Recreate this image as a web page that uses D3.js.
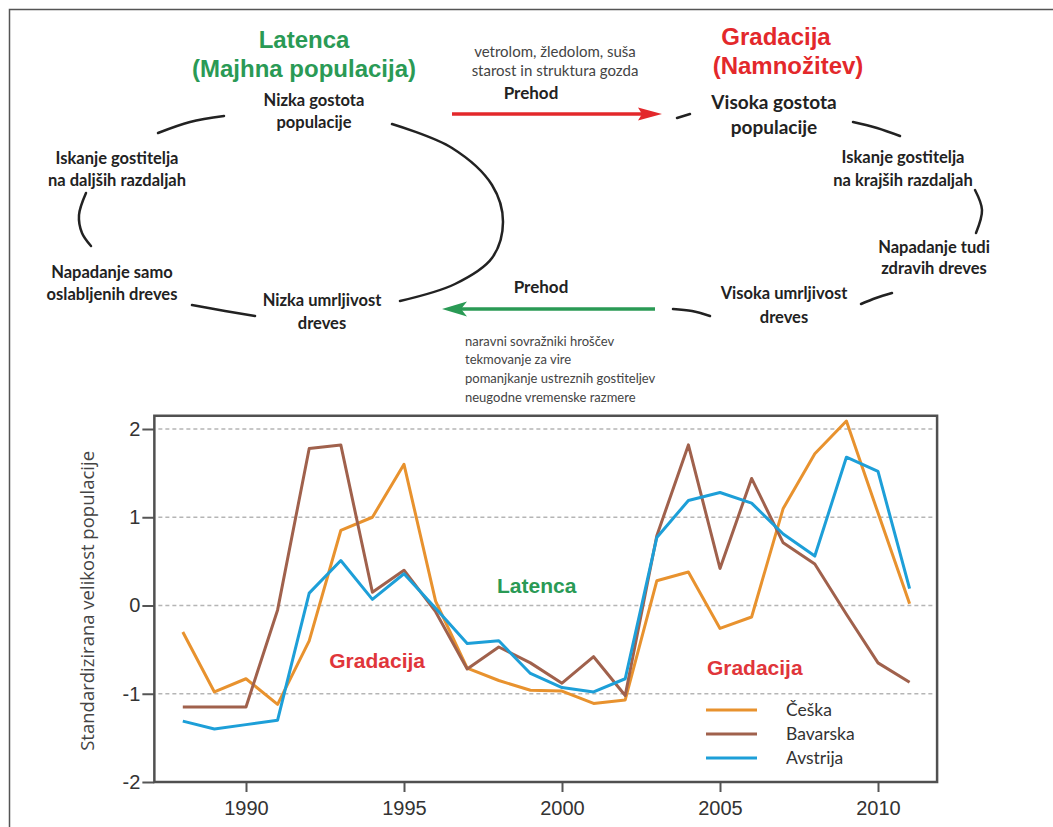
<!DOCTYPE html>
<html>
<head>
<meta charset="utf-8">
<script src="https://cdn.jsdelivr.net/npm/d3@7"></script>
<style>
  body { margin: 0; background: #fff; }
  svg { display: block; }
</style>
</head>
<body>
<script>
// chart data
const years = [1988, 1989, 1990, 1991, 1992, 1993, 1994, 1995, 1996, 1997, 1998, 1999,
               2000, 2001, 2002, 2003, 2004, 2005, 2006, 2007, 2008, 2009, 2010, 2011]
const ceska = [-0.30, -0.98, -0.83, -1.12, -0.40, 0.85, 1.00, 1.60, 0.05, -0.71, -0.85, -0.96,
               -0.97, -1.11, -1.07, 0.28, 0.38, -0.26, -0.13, 1.10, 1.72, 2.09, 1.05, 0.02]
const bavarska = [-1.15, -1.15, -1.15, -0.05, 1.78, 1.82, 0.15, 0.40, -0.07, -0.72, -0.47, -0.65,
                  -0.88, -0.58, -1.02, 0.79, 1.82, 0.42, 1.44, 0.71, 0.47, -0.10, -0.65, -0.87]
const avstrija = [-1.31, -1.40, -1.35, -1.30, 0.14, 0.51, 0.07, 0.36, -0.03, -0.43, -0.40, -0.77,
                  -0.93, -0.98, -0.83, 0.77, 1.19, 1.28, 1.16, 0.81, 0.56, 1.68, 1.52, 0.19]
const seriesNames = ["Češka", "Bavarska", "Avstrija"]
const seriesColors = ["#e8922e", "#a0614c", "#1d9fd8"]
const xTicks = [1990, 1995, 2000, 2005, 2010]
const yTicks = [-2, -1, 0, 1, 2]
const gridValues = [-1, 0, 1, 2]

const width = 1053, height = 827

const svg = d3.select("body").append("svg")
      .attr("width", width)
      .attr("height", height)
      .attr("viewBox", [0, 0, width, height])

// outer frame of the figure (cut at right and bottom)
svg.append("path")
      .attr("d", `M9.5,${height + 2}V9.5H${width + 2}`)
      .attr("fill", "none")
      .attr("stroke", "#555")
      .attr("stroke-width", 1.5)

// ---------- diagram of the cycle ----------
const dark = "#222"
const boldFont = "Lato, 'Open Sans', sans-serif"
const titleFont = "'Liberation Sans', Arial, sans-serif"

function label(lines, cx, cy, size, opts = {}) {
      const t = svg.append("text")
            .attr("font-family", opts.family || boldFont)
            .attr("font-weight", opts.weight || 700)
            .attr("font-size", size)
            .attr("fill", opts.fill || dark)
            .attr("text-anchor", opts.anchor || "middle")
      lines.forEach((s, i) => {
            t.append("tspan")
                  .attr("x", Array.isArray(cx) ? cx[i] : cx)
                  .attr("y", cy + i * (opts.lh || size * 1.55))
                  .attr("dy", "0.35em")
                  .text(s)
      })
}

label(["Latenca", "(Majhna populacija)"], 304, 40, 24, {family: titleFont, fill: "#2a9a55", lh: 29})
label(["Gradacija", "(Namnožitev)"], [776, 788], 37, 24, {family: titleFont, fill: "#e3282b", lh: 29})

label(["Nizka gostota", "populacije"], 314, 100, 16.5, {lh: 22})
label(["Iskanje gostitelja", "na daljših razdaljah"], 117, 158, 16.5, {lh: 22.5})
label(["Napadanje samo", "oslabljenih dreves"], 112, 272, 16.5, {lh: 22})
label(["Nizka umrljivost", "dreves"], 322, 300, 16.5, {lh: 23})

label(["Visoka gostota", "populacije"], 774, 102, 19, {lh: 25})
label(["Iskanje gostitelja", "na krajših razdaljah"], 903, 157, 16.5, {lh: 23})
label(["Napadanje tudi", "zdravih dreves"], 934, 247, 16.5, {lh: 21})
label(["Visoka umrljivost", "dreves"], 784, 293, 16.5, {lh: 24})

label(["vetrolom, žledolom, suša", "starost in struktura gozda"], 555, 52, 15,
      {weight: 400, fill: "#444", lh: 19})
label(["Prehod"], 531, 93, 17, {})
label(["Prehod"], 541, 287, 17, {})
label(["naravni sovražniki hroščev", "tekmovanje za vire",
       "pomanjkanje ustreznih gostiteljev", "neugodne vremenske razmere"], 465, 341, 13,
      {weight: 400, fill: "#444", anchor: "start", lh: 18.7})

// curved strokes of the cycle
const strokes = [
      [[158, 133], [190, 122], [224, 116]],
      [[86, 193], [79, 215], [82, 233], [91, 246]],
      [[192, 305], [225, 311], [255, 316]],
      [[392, 124], [452, 148], [492, 185], [503, 222], [492, 258], [455, 284], [400, 301]],
      [[677, 118], [690, 114]],
      [[853, 122], [877, 128], [900, 136]],
      [[975, 190], [982, 210], [976, 233]],
      [[892, 293], [876, 298], [861, 304]],
      [[673, 309], [692, 311], [710, 316]]
]
const strokeLine = d3.line().curve(d3.curveCatmullRom)
svg.append("g")
      .attr("fill", "none")
      .attr("stroke", dark)
      .attr("stroke-width", 2.5)
      .attr("stroke-linecap", "round")
      .selectAll("path")
      .data(strokes)
      .join("path")
      .attr("d", strokeLine)

// red arrow (latency -> outbreak)
svg.append("line")
      .attr("x1", 452).attr("x2", 645)
      .attr("y1", 114).attr("y2", 114)
      .attr("stroke", "#e3282b")
      .attr("stroke-width", 3.5)
svg.append("path")
      .attr("d", "M662,114L638,107.5L642,114L638,120.5Z")
      .attr("fill", "#e3282b")

// green arrow (outbreak -> latency)
svg.append("line")
      .attr("x1", 655).attr("x2", 455)
      .attr("y1", 309).attr("y2", 309)
      .attr("stroke", "#2a9a55")
      .attr("stroke-width", 3.5)
svg.append("path")
      .attr("d", "M442,309L467,301.5L461,309L467,316.5Z")
      .attr("fill", "#2a9a55")

// ---------- line chart ----------
const xScale = d3.scaleLinear([1990, 2010], [246, 878])
const yScale = d3.scaleLinear([-2, 2], [782, 429])
const x0 = xScale(1987.1), x1 = xScale(2011.87)
const yTop = yScale(2.15), yBottom = yScale(-2)

// dashed grid
svg.append("g")
      .attr("stroke", "#b5b5b5")
      .attr("stroke-width", 1.3)
      .attr("stroke-dasharray", "4 3")
      .selectAll("line")
      .data(gridValues)
      .join("line")
      .attr("x1", x0 + 4)
      .attr("x2", x1 - 2)
      .attr("y1", d => yScale(d))
      .attr("y2", d => yScale(d))

const tickFont = "'Liberation Sans', Arial, sans-serif"

// y axis
svg.append("g")
      .attr("transform", `translate(${x0},0)`)
      .call(d3.axisLeft(yScale).tickValues(yTicks).tickFormat(d => String(d)).tickSize(12).tickPadding(2))
      .call(g => g.select(".domain").remove())
      .call(g => g.selectAll(".tick line").attr("stroke", "#555").attr("stroke-width", 2))
      .call(g => g.selectAll(".tick text")
            .attr("font-family", tickFont)
            .attr("font-size", 20)
            .attr("fill", "#333"))

// x axis
svg.append("g")
      .attr("transform", `translate(0,${yBottom})`)
      .call(d3.axisBottom(xScale).tickValues(xTicks).tickFormat(d => String(d)).tickSize(10).tickPadding(9))
      .call(g => g.select(".domain").remove())
      .call(g => g.selectAll(".tick line").attr("stroke", "#555").attr("stroke-width", 2))
      .call(g => g.selectAll(".tick text")
            .attr("font-family", tickFont)
            .attr("font-size", 20)
            .attr("fill", "#333"))

// plot frame
svg.append("rect")
      .attr("x", x0)
      .attr("y", yTop)
      .attr("width", x1 - x0)
      .attr("height", yBottom - yTop)
      .attr("fill", "none")
      .attr("stroke", "#505050")
      .attr("stroke-width", 2.5)

// y label
svg.append("text")
      .attr("transform", `translate(88,${(yTop + yBottom) / 2 + 2}) rotate(-90)`)
      .attr("text-anchor", "middle")
      .attr("dy", "0.35em")
      .attr("font-family", "'Open Sans', sans-serif")
      .attr("font-size", 18.5)
      .attr("fill", "#444")
      .text("Standardizirana velikost populacije")

// series lines
const series = [ceska, bavarska, avstrija]
const line = d3.line()
      .x((d, i) => xScale(years[i]))
      .y(d => yScale(d))

svg.append("g")
      .attr("fill", "none")
      .attr("stroke-width", 3)
      .attr("stroke-linejoin", "round")
      .selectAll("path")
      .data(series)
      .join("path")
      .attr("stroke", (d, i) => seriesColors[i])
      .attr("d", line)

// phase labels on the chart
const phaseLabels = [
      {text: "Gradacija", x: 1994.15, y: -0.62, color: "#e0353a"},
      {text: "Latenca", x: 1999.2, y: 0.22, color: "#2a9a55"},
      {text: "Gradacija", x: 2006.1, y: -0.70, color: "#e0353a"}
]
svg.append("g")
      .attr("font-family", tickFont)
      .attr("font-weight", 700)
      .attr("font-size", 21)
      .attr("text-anchor", "middle")
      .selectAll("text")
      .data(phaseLabels)
      .join("text")
      .attr("x", d => xScale(d.x))
      .attr("y", d => yScale(d.y))
      .attr("dy", "0.35em")
      .attr("fill", d => d.color)
      .text(d => d.text)

// legend
const legend = svg.append("g")
      .attr("transform", `translate(706,710)`)
      .selectAll("g")
      .data(seriesNames)
      .join("g")
      .attr("transform", (d, i) => `translate(0,${i * 24})`)
legend.append("line")
      .attr("x1", 0).attr("x2", 51)
      .attr("stroke", (d, i) => seriesColors[i])
      .attr("stroke-width", 3)
legend.append("text")
      .attr("x", 80)
      .attr("dy", "0.32em")
      .attr("font-family", boldFont)
      .attr("font-size", 17.5)
      .attr("fill", "#333")
      .text(d => d)
</script>
</body>
</html>
